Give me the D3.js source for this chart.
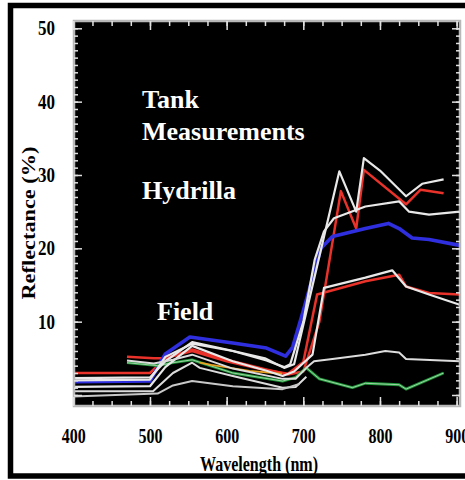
<!DOCTYPE html>
<html>
<head>
<meta charset="utf-8">
<script src="https://cdn.jsdelivr.net/npm/d3@7"></script>
<style>
  body { margin: 0; background: #fff; }
  text { font-family: "Liberation Serif", "Times New Roman", serif; font-weight: bold; }
</style>
</head>
<body>
<div id="chart"></div>
<script>
// Reflectance spectra, [wavelength nm, reflectance %]
var tankWhiteA = [[400,2.3],[500,2.4],[520,4.6],[555,7.2],[600,6.2],[650,5.0],[675,3.7],[688,4.2],[747,30.5],[769,25.0],[779,32.3],[800,30.6],[834,27.1],[855,28.8],[883,29.4]];
var tankRedA = [[400,3.0],[500,3.0],[520,5.0],[555,6.2],[600,4.8],[650,3.5],[680,2.8],[700,3.2],[721,10.0],[749,27.8],[769,22.7],[779,30.7],[834,26.0],[853,28.0],[883,27.5]];
var tankWhiteB = [[400,2.0],[500,2.1],[520,5.2],[555,7.0],[608,6.0],[652,4.7],[675,3.8],[683,4.2],[700,10.0],[715,18.5],[727,22.3],[740,24.1],[781,25.7],[825,26.4],[838,25.0],[864,24.6],[904,25.0]];
var tankBlue = [[400,1.8],[500,1.9],[520,5.6],[552,7.9],[608,7.1],[652,6.4],[677,5.3],[686,6.5],[700,11.5],[723,20.0],[738,21.6],[781,22.7],[811,23.4],[825,22.7],[842,21.4],[864,21.2],[904,20.4]];
var tankWhiteC = [[400,1.1],[500,1.2],[520,3.8],[555,6.7],[608,4.6],[652,3.3],[673,2.6],[688,3.2],[712,5.5],[727,14.6],[781,16.0],[816,17.0],[834,14.8],[864,13.7],[904,12.3]];
var tankRedB = [[470,5.2],[505,5.0],[520,5.0],[555,6.0],[600,4.6],[650,3.4],[680,2.9],[700,4.5],[718,13.7],[781,15.5],[825,16.4],[834,14.8],[864,13.9],[904,13.7]];
var fieldGreen = [[470,4.4],[510,4.0],[530,4.4],[555,4.8],[608,3.0],[673,1.9],[690,2.4],[704,3.7],[721,2.2],[764,1.0],[781,1.6],[825,1.4],[834,0.8],[883,3.0]];
var fieldWhiteA = [[470,4.7],[505,4.3],[530,4.8],[555,5.5],[608,3.6],[673,2.2],[690,2.2],[704,3.7],[714,4.6],[738,4.9],[781,5.5],[807,6.0],[825,5.8],[834,4.9],[904,4.6]];
var fieldWhiteB = [[400,0.5],[504,0.5],[530,3.0],[555,4.4],[565,3.7],[608,2.6],[673,1.0],[690,1.1],[704,2.5]];
var fieldWhiteC = [[400,-0.2],[510,0.2],[530,1.3],[555,1.9],[608,1.2],[673,0.8],[695,1.5]];
var fieldOrange = [[565,4.4],[580,4.1],[630,3.3],[672,2.9]];

var xLabels = [400, 500, 600, 700, 800, 900];
var yLabels = [10, 20, 30, 40, 50];
var notes = ["Tank", "Measurements", "Hydrilla", "Field"];

var W = 465, H = 480;

var svg = d3.select("#chart")
	.append("svg")
	.attr("width", W)
	.attr("height", H);

// outer black frame
svg.append("rect")
	.attr("x", 10.5).attr("y", 5.5)
	.attr("width", 480).attr("height", 470.5)
	.attr("fill", "#fff")
	.attr("stroke", "#000")
	.attr("stroke-width", 5.5);

var x = d3.scaleLinear().domain([400, 904]).range([73.3, 459.7]);
var y = d3.scaleLinear().domain([0, 50]).range([395, 28.3]);

// plot box (plotTop, not "top": that name is taken by window.top)
var plotLeft = 74, plotRight = 460, plotTop = 21, plotBottom = 406;

// black plot area
svg.append("rect")
	.attr("x", plotLeft).attr("y", plotTop)
	.attr("width", plotRight - plotLeft).attr("height", plotBottom - plotTop)
	.attr("fill", "#000");

var line = d3.line()
	.x(function(d) { return x(d[0]); })
	.y(function(d) { return y(d[1]); });

var plot = svg.append("g");

function drawLine(data, color, width) {
	plot.append("path")
		.datum(data)
		.attr("d", line)
		.attr("fill", "none")
		.attr("stroke", color)
		.attr("stroke-width", width)
		.attr("stroke-linejoin", "round");
}

// coloured spectra first, white ones on top
drawLine(tankRedA, "#e8322a", 2.5);
drawLine(tankRedB, "#e8322a", 2.5);
drawLine(tankBlue, "#2f2fe0", 3.6);
drawLine(fieldGreen, "#1f9a3a", 2.8);
drawLine(fieldGreen, "#bfe0c0", 0.8);
drawLine(fieldOrange, "#e8a020", 1.8);
drawLine(tankWhiteA, "#e8e8e8", 2.2);
drawLine(tankWhiteB, "#e8e8e8", 2.2);
drawLine(tankWhiteC, "#e8e8e8", 2.2);
drawLine(fieldWhiteA, "#dcdcdc", 2);
drawLine(fieldWhiteB, "#dcdcdc", 2);
drawLine(fieldWhiteC, "#c8c8c8", 2);

// grey frame with inward ticks
svg.append("rect")
	.attr("x", plotLeft).attr("y", plotTop)
	.attr("width", plotRight - plotLeft).attr("height", plotBottom - plotTop)
	.attr("fill", "none")
	.attr("stroke", "#b8b8b8")
	.attr("stroke-width", 2.5);

function ticks(axis, tx, ty) {
	var g = svg.append("g")
		.attr("transform", "translate(" + tx + "," + ty + ")")
		.call(axis.tickFormat("").tickSizeOuter(0));
	g.select(".domain").remove();
	g.selectAll("line").attr("stroke", "#e0e0e0").attr("stroke-width", 1.5);
}
var xMinor = d3.range(425, 901, 25), xMajor = d3.range(400, 901, 100);
var yMinor = d3.range(0, 51, 1), yMajor = d3.range(0, 51, 10);
ticks(d3.axisBottom(x).tickValues(xMinor).tickSizeInner(-5), 0, plotBottom);
ticks(d3.axisTop(x).tickValues(xMinor).tickSizeInner(-5), 0, plotTop);
ticks(d3.axisBottom(x).tickValues(xMajor).tickSizeInner(-9), 0, plotBottom);
ticks(d3.axisTop(x).tickValues(xMajor).tickSizeInner(-9), 0, plotTop);
ticks(d3.axisLeft(y).tickValues(yMinor).tickSizeInner(-4), plotLeft, 0);
ticks(d3.axisRight(y).tickValues(yMinor).tickSizeInner(-4), plotRight, 0);
ticks(d3.axisLeft(y).tickValues(yMajor).tickSizeInner(-8), plotLeft, 0);
ticks(d3.axisRight(y).tickValues(yMajor).tickSizeInner(-8), plotRight, 0);

// tick labels
var xAxis = svg.append("g")
	.attr("transform", "translate(0," + plotBottom + ")")
	.call(d3.axisBottom(x).tickValues(xLabels).tickSize(0).tickPadding(21));
xAxis.select(".domain").remove();
xAxis.selectAll("text")
	.style("font-size", "22px")
	.attr("fill", "#000")
	.attr("textLength", 24)
	.attr("lengthAdjust", "spacingAndGlyphs");

var yAxis = svg.append("g")
	.attr("transform", "translate(" + plotLeft + ",0)")
	.call(d3.axisLeft(y).tickValues(yLabels).tickSize(0).tickPadding(19));
yAxis.select(".domain").remove();
yAxis.selectAll("text")
	.style("font-size", "20px")
	.attr("fill", "#000")
	.attr("textLength", 17)
	.attr("lengthAdjust", "spacingAndGlyphs");

// axis titles
svg.append("text")
	.attr("x", 259).attr("y", 471)
	.attr("text-anchor", "middle")
	.style("font-size", "21px")
	.attr("textLength", 118)
	.attr("lengthAdjust", "spacingAndGlyphs")
	.text("Wavelength (nm)");

svg.append("text")
	.attr("transform", "translate(35,223) rotate(-90)")
	.attr("text-anchor", "middle")
	.style("font-size", "19px")
	.attr("textLength", 153)
	.attr("lengthAdjust", "spacingAndGlyphs")
	.text("Reflectance (%)");

// annotations inside the plot
var notePos = [[142, 108], [142, 140], [142, 199], [157, 320]];
svg.selectAll(".note")
	.data(notes)
	.enter()
	.append("text")
	.attr("class", "note")
	.attr("x", function(d, i) { return notePos[i][0]; })
	.attr("y", function(d, i) { return notePos[i][1]; })
	.attr("fill", "#fff")
	.style("font-size", "26px")
	.text(function(d) { return d; });
</script>
</body>
</html>
